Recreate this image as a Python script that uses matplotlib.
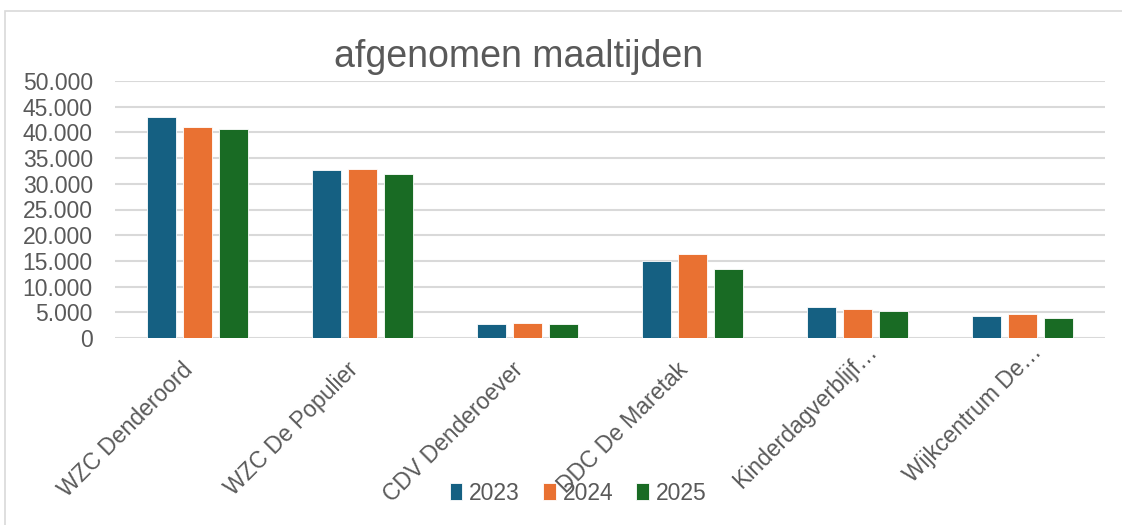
import numpy as np
import matplotlib
matplotlib.use('Agg')
import matplotlib.pyplot as plt
import matplotlib.transforms as mtransforms
from matplotlib.patches import Rectangle
from matplotlib.ticker import FuncFormatter

categories = ['WZC Denderoord', 'WZC De Populier', 'CDV Denderoever',
              'DDC De Maretak', 'Kinderdagverblijf…', 'Wijkcentrum De…']
years = ['2023', '2024', '2025']
v2023 = [42900, 32700, 2700, 14900, 6100, 4350]
v2024 = [41000, 32800, 3000, 16400, 5650, 4600]
v2025 = [40700, 32000, 2800, 13400, 5250, 3850]
colors = ['#156082', '#E97132', '#196B24']

plt.rcParams['font.family'] = ['Liberation Sans', 'DejaVu Sans']
grey = '#595959'

fig = plt.figure(figsize=(11.22, 5.25), dpi=100)
ax = fig.add_axes([115 / 1122, 1 - 338 / 525, 990 / 1122, 257 / 525])

x = np.arange(len(categories))
width = 0.176
step = 0.221
for i, (vals, yr) in enumerate(zip([v2023, v2024, v2025], years)):
    ax.bar(x + (i - 1) * step, vals, width, color=colors[i], label=yr,
           edgecolor='white', linewidth=0.6, zorder=3)

ax.set_xlim(-0.5, len(categories) - 0.5)
ax.set_ylim(0, 50000)
ax.set_yticks(np.arange(0, 50001, 5000))
ax.yaxis.set_major_formatter(FuncFormatter(lambda v, p: f'{v:,.0f}'.replace(',', '.')))
ax.grid(axis='y', color='#D9D9D9', linewidth=1.5, zorder=0)
for s in ax.spines.values():
    s.set_visible(False)
ax.tick_params(axis='both', length=0, colors=grey, labelsize=16.5)
ax.tick_params(axis='y', pad=16)
ax.tick_params(axis='x', pad=16)
ax.set_xticks(x)
ax.set_xticklabels(categories, rotation=45, ha='right', va='top',
                   rotation_mode='anchor')

# excel places the truncated labels a bit differently
shifts = [(-16, 2), (-16, 2), (-16, 2), (-16, 2), (8, 20), (8, 20)]
for lbl, (dx, dy) in zip(ax.get_xticklabels(), shifts):
    off = mtransforms.ScaledTranslation(dx / 100, dy / 100, fig.dpi_scale_trans)
    lbl.set_transform(lbl.get_transform() + off)

fig.text(519 / 1122, 1 - 57 / 525, 'afgenomen maaltijden', ha='center',
         va='center', fontsize=27, color=grey)

leg = fig.legend(loc='center', bbox_to_anchor=(578 / 1122, 1 - 493 / 525),
                 ncol=3, frameon=False, fontsize=16.5, labelcolor=grey,
                 handlelength=0.55, handleheight=0.8, handletextpad=0.3,
                 columnspacing=1.0)

# chart border
fig.patches.append(Rectangle((5 / 1122, -0.05), 1.2, 1 - 11 / 525 + 0.05,
                             transform=fig.transFigure, fill=False,
                             edgecolor='#D9D9D9', linewidth=1.2))

fig.savefig('out.png', dpi=100)
